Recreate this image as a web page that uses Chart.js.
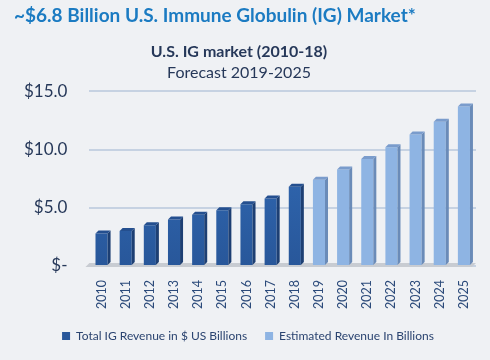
<!DOCTYPE html>
<html>
<head>
<meta charset="utf-8">
<script src="https://cdn.jsdelivr.net/npm/chart.js@4.4.1/dist/chart.umd.min.js"></script>
<style>
html,body{margin:0;padding:0;background:#eff1f4;}
#wrap{position:relative;width:490px;height:360px;}
#hdr{position:absolute;left:14px;top:3px;font-family:Lato,"Open Sans",sans-serif;font-weight:bold;font-size:19px;color:#1b7bc2;white-space:nowrap;}
canvas{position:absolute;left:0;top:0;}
</style>
</head>
<body>
<div id="wrap">
<canvas id="c" width="490" height="360"></canvas>
<div id="hdr">~$6.8 Billion U.S. Immune Globulin (IG) Market*</div>
</div>
<script>
const years = ['2010','2011','2012','2013','2014','2015','2016','2017','2018','2019','2020','2021','2022','2023','2024','2025'];
const actualRevenue = [2.8, 3.0, 3.5, 4.0, 4.4, 4.8, 5.3, 5.8, 6.8, null, null, null, null, null, null, null];
const estimatedRevenue = [null, null, null, null, null, null, null, null, null, 7.4, 8.3, 9.2, 10.2, 11.3, 12.4, 13.7];
const yTicks = [0, 5, 10, 15];
const seriesNames = ['Total IG Revenue in $ US Billions', 'Estimated Revenue In Billions'];

function shade(ctx, el, sideCol, topCol) {
  const p = el.getProps(['x','y','base','width'], true);
  const d = 3;
  const l = p.x - p.width/2, r = p.x + p.width/2;
  ctx.save();
  ctx.fillStyle = sideCol;
  ctx.beginPath();
  ctx.moveTo(r, p.y); ctx.lineTo(r+d, p.y-d); ctx.lineTo(r+d, p.base-d); ctx.lineTo(r, p.base); ctx.closePath(); ctx.fill();
  ctx.fillStyle = topCol;
  ctx.beginPath();
  ctx.moveTo(l, p.y); ctx.lineTo(l+d, p.y-d); ctx.lineTo(r+d, p.y-d); ctx.lineTo(r, p.y); ctx.closePath(); ctx.fill();
  ctx.restore();
}

const depthPlugin = {
  id: 'depth',
  afterLayout(chart) {
    const lg = chart.legend;
    if (lg) { lg.left += 9; lg.right += 9; }
  },
  afterDatasetsDraw(chart) {
    const ctx = chart.ctx;
    const cols = [['#1d3f73','#244f8f'], ['#6a8bb8','#7a9ccc']];
    chart.data.datasets.forEach((ds, i) => {
      const meta = chart.getDatasetMeta(i);
      meta.data.forEach((el, j) => {
        if (ds.data[j] == null) return;
        shade(ctx, el, cols[i][0], cols[i][1]);
      });
    });
  },
  beforeDatasetsDraw(chart) {
    const ctx = chart.ctx, a = chart.chartArea;
    const y0 = chart.scales.y.getPixelForValue(0);
    ctx.save();
    ctx.fillStyle = '#c8ccd2';
    ctx.beginPath();
    ctx.moveTo(a.left-4, y0+1); ctx.lineTo(a.left, y0-3); ctx.lineTo(a.right, y0-3); ctx.lineTo(a.right-4, y0+1); ctx.closePath(); ctx.fill();
    ctx.restore();
  }
};

function barGrad(ctx, c1, c2) {
  const a = ctx.chart.chartArea;
  if (!a) return c1;
  const g = ctx.chart.ctx.createLinearGradient(0, a.top, 0, a.bottom);
  g.addColorStop(0, c1); g.addColorStop(1, c2);
  return g;
}

new Chart(document.getElementById('c'), {
  type: 'bar',
  data: {
    labels: years,
    datasets: [
      { label: seriesNames[0], data: actualRevenue, backgroundColor: c => barGrad(c, '#3470bd', '#28579a') },
      { label: seriesNames[1], data: estimatedRevenue, backgroundColor: '#8eb4e3' }
    ]
  },
  options: {
    responsive: false,
    animation: false,
    layout: { padding: { top: 42, right: 14, left: 2, bottom: 8 } },
    datasets: { bar: { grouped: false, barPercentage: 0.5, categoryPercentage: 1.0 } },
    plugins: {
      title: { display: true, text: 'U.S. IG market (2010-18)', color: '#263859', font: { family: 'Lato', size: 16, weight: 'bold' }, padding: { top: 0, bottom: 2 } },
      subtitle: { display: true, text: 'Forecast 2019-2025', color: '#263859', font: { family: 'Lato', size: 16 }, padding: { bottom: 9 } },
      legend: {
        position: 'bottom',
        labels: { boxWidth: 8, boxHeight: 8, color: '#2b4470', font: { family: 'Lato', size: 12 }, padding: 18 }
      },
      tooltip: { enabled: false }
    },
    scales: {
      x: {
        grid: { display: false },
        border: { display: false },
        afterFit: s => { s.height = 46; },
        ticks: { color: '#2b4a7a', font: { family: 'Lato', size: 12.5 }, minRotation: 90, maxRotation: 90, padding: 6 }
      },
      y: {
        min: 0, max: 15,
        afterBuildTicks: ax => { ax.ticks = yTicks.map(v => ({ value: v })); },
        grid: { color: '#c6d2e2', lineWidth: 2, drawTicks: false },
        border: { display: false },
        ticks: { color: '#263859', font: { family: 'Lato', size: 17 }, padding: 22, callback: v => v === 0 ? '$-' : '$' + v.toFixed(1) }
      }
    }
  },
  plugins: [depthPlugin]
});
</script>
</body>
</html>
